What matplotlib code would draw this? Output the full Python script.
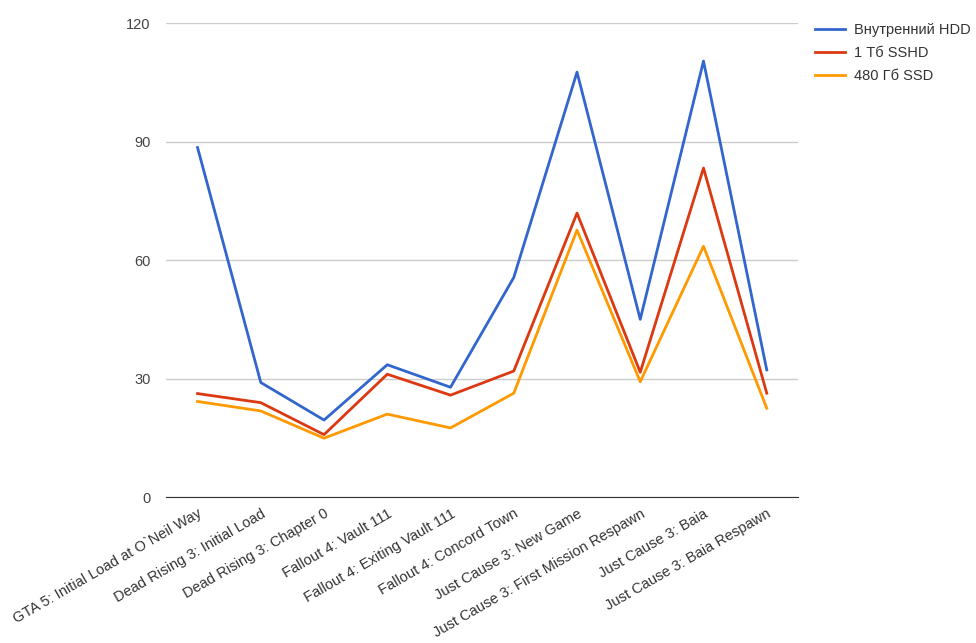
import matplotlib
matplotlib.use("Agg")
from matplotlib import pyplot as plt

categories = ["GTA 5: Initial Load at O`Neil Way", "Dead Rising 3: Initial Load",
              "Dead Rising 3: Chapter 0", "Fallout 4: Vault 111",
              "Fallout 4: Exiting Vault 111", "Fallout 4: Concord Town",
              "Just Cause 3: New Game", "Just Cause 3: First Mission Respawn",
              "Just Cause 3: Baia", "Just Cause 3: Baia Respawn"]
hdd = [88.5, 29.0, 19.5, 33.5, 27.8, 55.6, 107.6, 45.0, 110.4, 32.2]
sshd = [26.2, 23.9, 15.8, 31.1, 25.8, 31.9, 71.9, 31.6, 83.3, 26.3]
ssd = [24.2, 21.8, 14.9, 21.0, 17.5, 26.3, 67.6, 29.2, 63.5, 22.5]
series_names = ["Внутренний HDD", "1 Тб SSHD", "480 Гб SSD"]
yticks = [0, 30, 60, 90, 120]

plt.rcParams["font.family"] = ["Liberation Sans", "DejaVu Sans"]

fig = plt.figure(figsize=(9.76, 6.43), dpi=100)
ax = fig.add_axes([0.170, 0.227, 0.648, 0.737])

x = list(range(len(categories)))
ax.plot(x, hdd, color="#3366cc", lw=2, label=series_names[0])
ax.plot(x, sshd, color="#dc3912", lw=2, label=series_names[1])
ax.plot(x, ssd, color="#ff9900", lw=2, label=series_names[2])

ax.set_xlim(-0.5, len(categories) - 0.5)
ax.set_ylim(0, 120)
ax.set_yticks(yticks)
ax.set_yticklabels([str(t) for t in yticks], color="#444444", fontsize=10.5)
ax.yaxis.grid(True, color="#cccccc", lw=1)
ax.set_axisbelow(True)
ax.set_xticks(x)
ax.set_xticklabels(categories, rotation=30, ha="right", rotation_mode="anchor",
                   color="#333333", fontsize=10.5)
ax.tick_params(axis="y", length=0, pad=11)
ax.tick_params(axis="x", length=0, pad=7)
for s in ["top", "right", "left"]:
    ax.spines[s].set_visible(False)
ax.spines["bottom"].set_color("#333333")

ax.legend(loc="upper left", bbox_to_anchor=(1.005, 1.027), frameon=False,
          fontsize=10.5, handlelength=2.1, handletextpad=0.6,
          labelspacing=0.6, labelcolor="#333333")

fig.savefig("out.png", dpi=100)
